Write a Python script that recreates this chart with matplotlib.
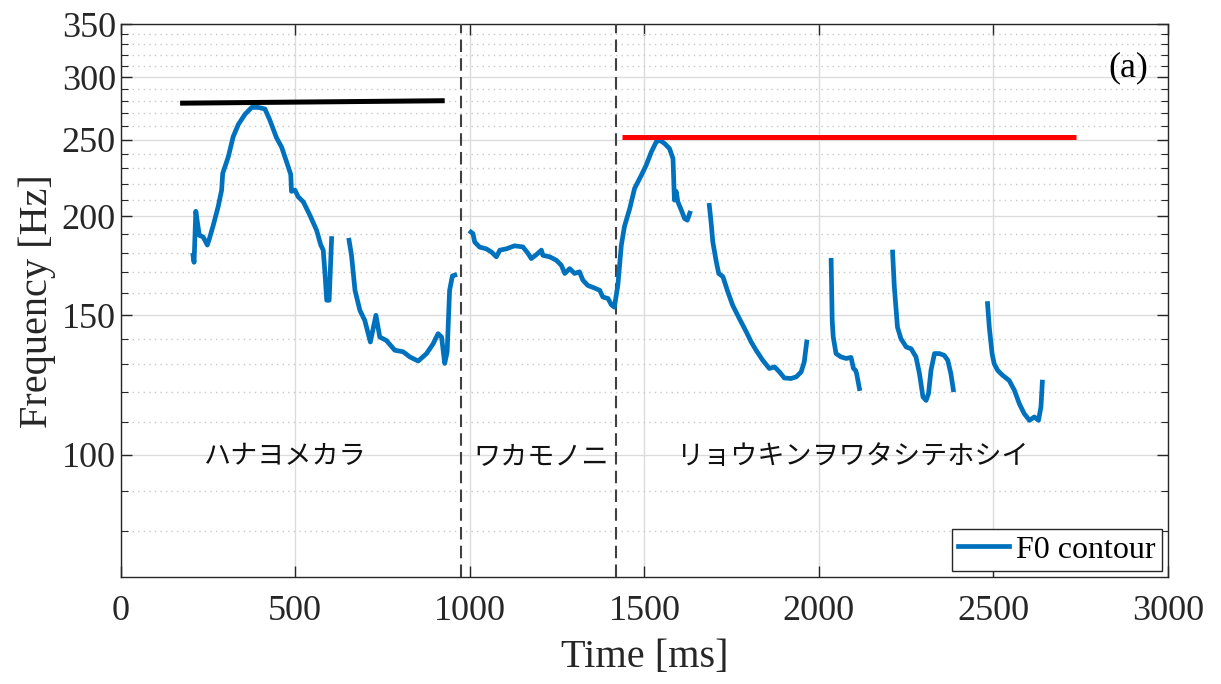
import matplotlib
matplotlib.use("Agg")
import matplotlib.pyplot as plt
from matplotlib.ticker import FixedLocator, NullFormatter, FixedFormatter

# F0 contour pieces (time in ms, frequency in Hz)
seg1_t = [207, 210, 215, 225, 236, 248, 254, 265, 279, 289, 292, 308, 322, 337, 356,
          375, 394, 413, 427, 446, 461, 475, 487, 489, 499, 508, 523, 542, 561, 573,
          580, 585, 590, 597, 604]
seg1_f = [178.6, 175.0, 203.0, 189.3, 188.4, 184.0, 187.5, 194.9, 205.7, 215.9, 226.6,
          237.8, 252.1, 261.4, 269.2, 274.6, 274.6, 273.4, 264.7, 251.5, 244.5, 234.4,
          225.9, 215.1, 215.9, 211.8, 208.6, 200.6, 192.1, 184.0, 181.3, 169.4, 156.7,
          156.7, 187.5]

seg2_t = [654, 661, 671, 685, 699, 715, 731, 742, 761, 785, 809, 828, 852, 876, 895,
          909, 919, 928, 935, 942, 950, 957]
seg2_f = [186.6, 178.6, 161.3, 152.2, 147.8, 138.8, 150.0, 140.8, 139.4, 135.5, 134.9,
          132.9, 131.3, 134.2, 138.1, 142.2, 140.8, 130.4, 134.9, 161.3, 168.2, 168.6]

seg3_t = [1003, 1009, 1014, 1028, 1047, 1062, 1076, 1086, 1105, 1128, 1152, 1167, 1176,
          1191, 1205, 1209, 1229, 1248, 1262, 1272, 1286, 1300, 1314, 1324, 1338, 1357,
          1372, 1381, 1396, 1405, 1414, 1424, 1434, 1443, 1458, 1472, 1491, 1505, 1520,
          1534, 1544, 1558, 1572, 1582, 1586, 1591, 1596, 1606, 1615, 1623, 1630]
seg3_f = [191.1, 190.2, 185.6, 182.9, 182.0, 180.3, 177.8, 181.3, 182.0, 183.6, 183.0,
          179.5, 176.9, 179.0, 181.3, 178.6, 177.8, 176.0, 173.5, 169.4, 171.8, 169.4,
          170.2, 166.1, 163.6, 162.4, 161.3, 158.2, 157.5, 154.7, 153.6, 163.7, 184.0,
          194.3, 204.6, 217.0, 225.3, 232.0, 241.3, 248.4, 249.6, 247.2, 243.6, 236.6,
          209.7, 215.1, 208.6, 203.6, 198.8, 197.8, 201.9]

seg4_t = [1686, 1691, 1696, 1706, 1713, 1725, 1739, 1753, 1772, 1792, 1806, 1820, 1839,
          1858, 1873, 1887, 1901, 1920, 1935, 1949, 1958, 1965]
seg4_f = [206.5, 196.8, 185.7, 175.2, 169.4, 167.8, 160.6, 154.4, 148.6, 142.9, 138.8,
          135.5, 131.6, 128.5, 129.1, 127.2, 125.0, 124.8, 125.4, 127.2, 131.0, 138.8]

seg5_t = [2035, 2038, 2041, 2049, 2063, 2078, 2092, 2099, 2105, 2108, 2116]
seg5_f = [176.0, 147.8, 140.8, 134.2, 132.9, 132.3, 132.7, 128.5, 127.8, 126.6, 121.2]

seg6_t = [2211, 2216, 2225, 2235, 2250, 2264, 2278, 2288, 2298, 2307, 2314, 2321, 2331,
          2345, 2359, 2369, 2378, 2385]
seg6_f = [180.3, 162.9, 144.9, 140.1, 136.8, 136.1, 132.9, 126.6, 118.3, 117.1, 119.5,
          127.8, 134.2, 134.2, 133.5, 131.6, 126.6, 120.8]

seg7_t = [2483, 2488, 2496, 2502, 2512, 2526, 2545, 2560, 2574, 2588, 2603, 2617, 2629,
          2636, 2640]
seg7_f = [155.2, 144.9, 134.2, 130.3, 127.8, 126.0, 124.1, 120.6, 116.0, 112.7, 110.5,
          111.6, 110.5, 114.9, 123.5]

# reference (top) lines
black_t = [170, 928]
black_f = [278, 280]
red_t = [1435, 2737]
red_f = [252, 252]

# phrase boundaries
boundaries = [974, 1420]

# phrase labels
phrase_text = ["ハナヨメカラ", "ワカモノニ", "リョウキンヲワタシテホシイ"]
phrase_t = [471, 1204, 2096]
phrase_f = 99.5

y_major = [100, 150, 200, 250, 300, 350]
y_minor = [80, 90, 110, 120, 130, 140, 160, 170, 180, 190, 210, 220, 230, 240,
           260, 270, 280, 290, 310, 320, 330, 340]
x_major = [0, 500, 1000, 1500, 2000, 2500, 3000]

serif = "Liberation Serif"
jp = ["Noto Sans CJK JP", "DejaVu Sans"]

fig = plt.figure(figsize=(12.21, 6.84), dpi=100)
ax = fig.add_axes([0.0989, 0.156, 0.8577, 0.8089])

segments = [(seg1_t, seg1_f), (seg2_t, seg2_f), (seg3_t, seg3_f), (seg4_t, seg4_f),
            (seg5_t, seg5_f), (seg6_t, seg6_f), (seg7_t, seg7_f)]
for i, (t, f) in enumerate(segments):
    ax.plot(t, f, color="#0072BD", lw=3.4, solid_joinstyle="round",
            label="F0 contour" if i == 0 else None, zorder=4)

ax.plot(black_t, black_f, color="black", lw=3.6, solid_capstyle="butt", zorder=5)
ax.plot(red_t, red_f, color="#FF0000", lw=3.6, solid_capstyle="butt", zorder=5)

for b in boundaries:
    ax.axvline(b, color="#404040", lw=1.5, ls=(0, (6, 3)), zorder=3)

for txt, t in zip(phrase_text, phrase_t):
    ax.text(t, phrase_f, txt, family=jp, fontsize=19.5, ha="center", va="center",
            color="#111111")

ax.text(2885, 308, "(a)", family=serif, fontsize=26, ha="center", va="center")

ax.set_yscale("log")
ax.set_xlim(0, 3000)
ax.set_ylim(70, 350)
ax.yaxis.set_major_locator(FixedLocator(y_major))
ax.yaxis.set_major_formatter(FixedFormatter([str(v) for v in y_major]))
ax.yaxis.set_minor_locator(FixedLocator(y_minor))
ax.yaxis.set_minor_formatter(NullFormatter())
ax.xaxis.set_major_locator(FixedLocator(x_major))

ax.grid(True, which="major", color="#dcdcdc", lw=1.0, ls="-", zorder=0)
ax.grid(True, which="minor", axis="y", color="#c8c8c8", lw=1.0, ls=(0, (1, 3)), zorder=0)
ax.set_axisbelow(True)

ax.tick_params(which="both", direction="in", top=True, right=True, colors="#262626",
               labelcolor="#262626")
ax.tick_params(which="major", length=8, width=1)
ax.tick_params(which="minor", length=5, width=0.8)
ax.tick_params(axis="x", pad=13)
for lab in ax.get_xticklabels() + ax.get_yticklabels():
    lab.set_family(serif)
    lab.set_fontsize(26)
for sp in ax.spines.values():
    sp.set_color("#262626")
    sp.set_linewidth(1.0)

ax.set_xlabel("Time [ms]", family=serif, fontsize=29, color="#262626", labelpad=8)
ax.set_ylabel("Frequency [Hz]", family=serif, fontsize=29, color="#262626", labelpad=4)

leg = ax.legend(loc="lower right", prop={"family": serif, "size": 23}, frameon=True,
                fancybox=False, edgecolor="#262626", framealpha=1, handlelength=1.6,
                handletextpad=0.2, borderpad=0.2, borderaxespad=0.2)
leg.get_frame().set_linewidth(1.0)

fig.savefig("out.png", dpi=100)
